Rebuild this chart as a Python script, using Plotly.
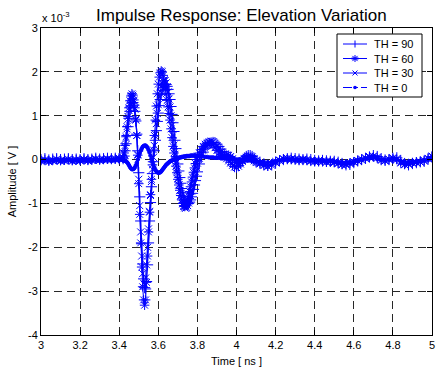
import numpy as np
import plotly.graph_objects as go

# ---- time grid (ns): coarse in flat parts, fine around the pulse ----
t_seg1 = np.round(np.arange(3.00, 3.4001, 0.02), 3)     # 21 pts
t_seg2 = np.round(np.arange(3.420, 3.8001, 0.005), 3)   # 77 pts
t_seg3 = np.round(np.arange(3.81, 4.1001, 0.01), 3)     # 30 pts
t_seg4 = np.round(np.arange(4.12, 5.0001, 0.02), 3)     # 45 pts
time_ns = np.concatenate([t_seg1, t_seg2, t_seg3, t_seg4])

# ---- amplitudes in units of 1e-3 V ----
th90 = [
    0.00, 0.02, -0.01, 0.01, 0.02, 0.00, 0.01, 0.02, 0.00, 0.01, 0.00, 0.02, 0.00, 0.01, 0.03, 0.01, 0.02, 0.03, 0.02, 0.03, 0.02,
    0.02, 0.08, 0.20, 0.36, 0.55, 0.75, 0.94, 1.10, 1.22, 1.29, 1.30, 1.24, 1.10, 0.88, 0.58, 0.20,
    -0.30, -0.85, -1.40, -1.92, -2.38, -2.72, -2.92, -2.95, -2.78, -2.40, -1.90, -1.40, -0.98, -0.62, -0.32, -0.05,
    0.20, 0.44, 0.66, 0.87, 1.06, 1.23, 1.37, 1.49, 1.58, 1.65, 1.70, 1.72, 1.71, 1.67, 1.60, 1.50,
    1.37, 1.21, 1.03, 0.84, 0.64, 0.44, 0.25, 0.07, -0.10, -0.26, -0.41, -0.54, -0.66, -0.76, -0.85, -0.92,
    -0.97, -1.00, -1.01, -1.00, -0.97, -0.92, -0.85, -0.77, -0.68, -0.58, -0.48, -0.38, -0.28,
    -0.10, 0.05, 0.17, 0.26, 0.32, 0.36, 0.38, 0.39, 0.38, 0.35, 0.30, 0.24, 0.18, 0.12, 0.06,
    0.00, -0.06, -0.12, -0.16, -0.17, -0.14, -0.08, -0.02, 0.03, 0.07, 0.09, 0.09, 0.07, 0.03, -0.02,
    -0.06, -0.10, -0.13, -0.12, -0.08, -0.03, 0.00, 0.02, 0.03, 0.02, 0.01, 0.00, 0.01, 0.00, -0.02,
    -0.03, -0.02, -0.03, -0.04, -0.04, -0.06, -0.09, -0.12, -0.11, -0.07, -0.03, 0.00, 0.03, 0.06, 0.09,
    0.07, 0.02, -0.01, 0.00, 0.03, 0.04, -0.02, -0.09, -0.12, -0.09, -0.07, -0.05, -0.04, 0.01, 0.06,
]
th60 = [
    -0.02, 0.00, -0.03, -0.01, 0.01, -0.02, -0.01, 0.01, -0.02, 0.00, -0.01, 0.01, -0.01, 0.00, 0.02, 0.00, 0.01, 0.02, 0.01, 0.02, 0.03,
    0.05, 0.15, 0.32, 0.52, 0.75, 0.98, 1.18, 1.34, 1.45, 1.50, 1.47, 1.36, 1.18, 0.92, 0.55, 0.10,
    -0.55, -1.25, -1.90, -2.45, -2.90, -3.20, -3.32, -3.20, -2.80, -2.20, -1.65, -1.20, -0.80, -0.45, -0.12, 0.22,
    0.55, 0.90, 1.22, 1.50, 1.72, 1.88, 1.98, 2.02, 2.00, 1.92, 1.80, 1.65, 1.50, 1.35, 1.20, 1.05,
    0.90, 0.70, 0.50, 0.30, 0.15, 0.00, -0.15, -0.30, -0.45, -0.58, -0.70, -0.82, -0.92, -1.00, -1.05, -1.07,
    -1.05, -1.00, -0.92, -0.83, -0.73, -0.62, -0.51, -0.40, -0.29, -0.19, -0.09, 0.00, 0.08,
    0.15, 0.23, 0.30, 0.35, 0.38, 0.39, 0.37, 0.33, 0.27, 0.21, 0.15, 0.11, 0.09, 0.09, 0.10,
    0.10, 0.07, 0.02, -0.03, -0.07, -0.08, -0.06, -0.02, 0.02, 0.05, 0.06, 0.05, 0.02, -0.03, -0.07,
    -0.10, -0.14, -0.15, -0.10, -0.04, -0.01, 0.01, 0.01, 0.00, -0.01, -0.02, -0.01, -0.02, -0.04, -0.05,
    -0.04, -0.05, -0.06, -0.05, -0.07, -0.09, -0.11, -0.10, -0.08, -0.06, -0.03, -0.01, 0.02, 0.05, 0.06,
    0.03, -0.02, -0.03, 0.00, 0.02, 0.00, -0.08, -0.11, -0.09, -0.07, -0.06, -0.05, -0.02, 0.03, 0.07,
]
th30 = [
    -0.04, -0.02, -0.05, -0.03, -0.01, -0.04, -0.03, -0.01, -0.04, -0.02, -0.03, -0.01, -0.03, -0.02, 0.00, -0.02, -0.01, 0.00, -0.01, 0.00, 0.01,
    0.03, 0.12, 0.28, 0.48, 0.70, 0.92, 1.12, 1.28, 1.40, 1.45, 1.43, 1.33, 1.15, 0.90, 0.55, 0.12,
    -0.45, -1.05, -1.65, -2.20, -2.60, -2.82, -2.85, -2.70, -2.40, -2.00, -1.58, -1.18, -0.82, -0.50, -0.22, 0.05,
    0.32, 0.58, 0.82, 1.05, 1.25, 1.42, 1.56, 1.67, 1.75, 1.80, 1.82, 1.80, 1.75, 1.66, 1.54, 1.38,
    1.20, 1.00, 0.78, 0.55, 0.33, 0.12, -0.08, -0.26, -0.43, -0.58, -0.71, -0.83, -0.93, -1.01, -1.07, -1.10,
    -1.11, -1.09, -1.05, -0.99, -0.91, -0.82, -0.72, -0.61, -0.50, -0.39, -0.28, -0.18, -0.08,
    0.03, 0.13, 0.22, 0.30, 0.36, 0.40, 0.42, 0.41, 0.37, 0.31, 0.24, 0.17, 0.11, 0.06, 0.02,
    -0.03, -0.08, -0.13, -0.17, -0.18, -0.15, -0.10, -0.04, 0.01, 0.05, 0.08, 0.08, 0.06, 0.02, -0.03,
    -0.08, -0.12, -0.16, -0.13, -0.07, -0.02, 0.02, 0.03, 0.02, 0.01, 0.00, 0.01, 0.00, -0.02, -0.03,
    -0.02, -0.03, -0.04, -0.03, -0.05, -0.08, -0.12, -0.12, -0.09, -0.05, -0.02, 0.01, 0.04, 0.07, 0.08,
    0.05, 0.00, -0.02, 0.01, 0.04, 0.02, -0.06, -0.12, -0.11, -0.08, -0.07, -0.06, -0.03, 0.02, 0.08,
]
th0 = [
    -0.03, -0.03, -0.04, -0.03, -0.02, -0.03, -0.03, -0.02, -0.03, -0.02, -0.03, -0.02, -0.02, -0.02, -0.01, -0.02, -0.01, -0.01, -0.01, -0.01, -0.02,
    -0.02, -0.02, -0.03, -0.04, -0.06, -0.09, -0.13, -0.17, -0.20, -0.22, -0.22, -0.21, -0.18, -0.13, -0.07, 0.00,
    0.07, 0.14, 0.20, 0.25, 0.29, 0.31, 0.32, 0.32, 0.30, 0.27, 0.22, 0.16, 0.09, 0.02, -0.05, -0.12,
    -0.18, -0.23, -0.27, -0.29, -0.30, -0.30, -0.29, -0.27, -0.24, -0.21, -0.18, -0.15, -0.12, -0.10, -0.08, -0.06,
    -0.04, -0.03, -0.02, -0.01, 0.00, 0.01, 0.02, 0.03, 0.04, 0.04, 0.05, 0.05, 0.06, 0.06, 0.07, 0.07,
    0.07, 0.08, 0.08, 0.08, 0.08, 0.09, 0.09, 0.09, 0.09, 0.09, 0.09, 0.08, 0.08,
    0.08, 0.07, 0.07, 0.06, 0.06, 0.05, 0.05, 0.05, 0.04, 0.04, 0.04, 0.03, 0.03, 0.03, 0.02,
    0.02, 0.02, 0.01, 0.01, 0.00, 0.00, -0.01, -0.01, -0.01, -0.02, -0.02, -0.02, -0.03, -0.03, -0.03,
    -0.04, -0.05, -0.06, -0.05, -0.03, -0.02, -0.01, 0.00, 0.00, -0.01, -0.01, 0.00, -0.01, -0.02, -0.02,
    -0.02, -0.03, -0.03, -0.03, -0.04, -0.05, -0.06, -0.06, -0.05, -0.03, -0.01, 0.00, 0.02, 0.03, 0.04,
    0.02, 0.00, -0.01, 0.00, 0.01, 0.00, -0.03, -0.05, -0.05, -0.04, -0.04, -0.03, -0.02, 0.01, 0.03,
]

series_names = ["TH = 90", "TH = 60", "TH = 30", "TH = 0"]
x_ticks = [3, 3.2, 3.4, 3.6, 3.8, 4, 4.2, 4.4, 4.6, 4.8, 5]
y_ticks = [-4, -3, -2, -1, 0, 1, 2, 3]

for arr in (th90, th60, th30, th0):
    assert len(arr) == len(time_ns), (len(arr), len(time_ns))

BLUE = "rgb(0,0,255)"
FONT = "Arial, Liberation Sans, Helvetica, sans-serif"

styles = [
    dict(symbol="cross-thin-open", size=8, dash="solid"),
    dict(symbol="asterisk-open", size=8, dash="solid"),
    dict(symbol="x-thin-open", size=7, dash="solid"),
    dict(symbol="circle", size=3.5, dash="dashdot"),
]

fig = go.Figure()
for name, vals, st in zip(series_names, (th90, th60, th30, th0), styles):
    fig.add_trace(go.Scatter(
        x=time_ns, y=vals, name=name, mode="lines+markers", showlegend=False,
        line=dict(color=BLUE, width=1, dash=st["dash"]),
        marker=dict(symbol=st["symbol"], size=st["size"], color=BLUE,
                    line=dict(color=BLUE, width=1)),
    ))

axis_common = dict(
    showline=True, linecolor="black", linewidth=1, mirror="ticks",
    ticks="inside", ticklen=5, tickcolor="black",
    showgrid=True, gridcolor="rgb(40,40,40)", gridwidth=1, griddash="8px,5px",
    zeroline=False, tickfont=dict(family=FONT, size=11, color="black"),
    automargin=False,
)

fig.update_xaxes(range=[3, 5], tickvals=x_ticks, ticktext=[f"{v:g}" for v in x_ticks],
                 title=dict(text="Time [ ns ]", font=dict(family=FONT, size=11, color="black"), standoff=7),
                 **axis_common)
fig.update_yaxes(range=[-4, 3], tickvals=y_ticks, ticktext=[str(v) for v in y_ticks],
                 title=dict(text="Amplitude [ V ]", font=dict(family=FONT, size=11, color="black"), standoff=9),
                 **axis_common)

# ---- MATLAB-style compact legend box (layout decoration in pixel space) ----
ML, MR, MT, MB, W, H = 41, 6, 28, 34, 438, 369
PW, PH = W - ML - MR, H - MT - MB


def px(x):
    return (x - ML) / PW


def py(y):
    return (H - MB - y) / PH


def seg(x0, y0, x1, y1, dash="solid", width=1):
    return dict(type="line", xref="paper", yref="paper", layer="above",
                x0=px(x0), y0=py(y0), x1=px(x1), y1=py(y1),
                line=dict(color=BLUE, width=width, dash=dash))


shapes = [dict(type="rect", xref="paper", yref="paper", layer="above",
               x0=px(337), y0=py(97), x1=px(422), y1=py(34),
               fillcolor="white", line=dict(color="black", width=1))]
annotations = []
rows = [44, 58.5, 73, 87.5]
lx0, lx1, mx = 343, 367, 355
for name, ry, st in zip(series_names, rows, styles):
    shapes.append(seg(lx0, ry, lx1, ry, dash=st["dash"]))
    r = 3.5
    if st["symbol"].startswith("cross"):
        shapes.append(seg(mx, ry - r, mx, ry + r))
    elif st["symbol"].startswith("asterisk"):
        shapes.append(seg(mx, ry - r, mx, ry + r))
        shapes.append(seg(mx - 2.6, ry - 2.6, mx + 2.6, ry + 2.6))
        shapes.append(seg(mx - 2.6, ry + 2.6, mx + 2.6, ry - 2.6))
        shapes.append(seg(mx - r, ry, mx + r, ry, width=2))
    elif st["symbol"].startswith("x"):
        shapes.append(seg(mx - 2.5, ry - 2.5, mx + 2.5, ry + 2.5))
        shapes.append(seg(mx - 2.5, ry + 2.5, mx + 2.5, ry - 2.5))
    else:
        shapes.append(dict(type="circle", xref="paper", yref="paper", layer="above",
                           x0=px(mx - 1.8), y0=py(ry + 1.8), x1=px(mx + 1.8), y1=py(ry - 1.8),
                           fillcolor=BLUE, line=dict(color=BLUE, width=0)))
    annotations.append(dict(text=name, xref="paper", yref="paper", x=px(372), y=py(ry),
                            xanchor="left", yanchor="middle", showarrow=False,
                            font=dict(family=FONT, size=11, color="black")))

annotations += [
    dict(text="Impulse Response: Elevation Variation", xref="paper", yref="paper",
         x=px(241), y=py(16), xanchor="center", yanchor="middle", showarrow=False,
         font=dict(family=FONT, size=17, color="black")),
    dict(text="x 10<sup>-3</sup>", xref="paper", yref="paper",
         x=px(40), y=py(17), xanchor="left", yanchor="middle", showarrow=False,
         font=dict(family=FONT, size=11, color="black")),
]

fig.update_layout(
    width=W, height=H,
    margin=dict(l=ML, r=MR, t=MT, b=MB),
    paper_bgcolor="white", plot_bgcolor="white",
    font=dict(family=FONT, size=11, color="black"),
    showlegend=False,
    shapes=shapes,
    annotations=annotations,
)

fig.write_html("out.html", config={"displayModeBar": False},
               post_script="document.body.style.margin='0px';document.body.style.overflow='hidden';")
